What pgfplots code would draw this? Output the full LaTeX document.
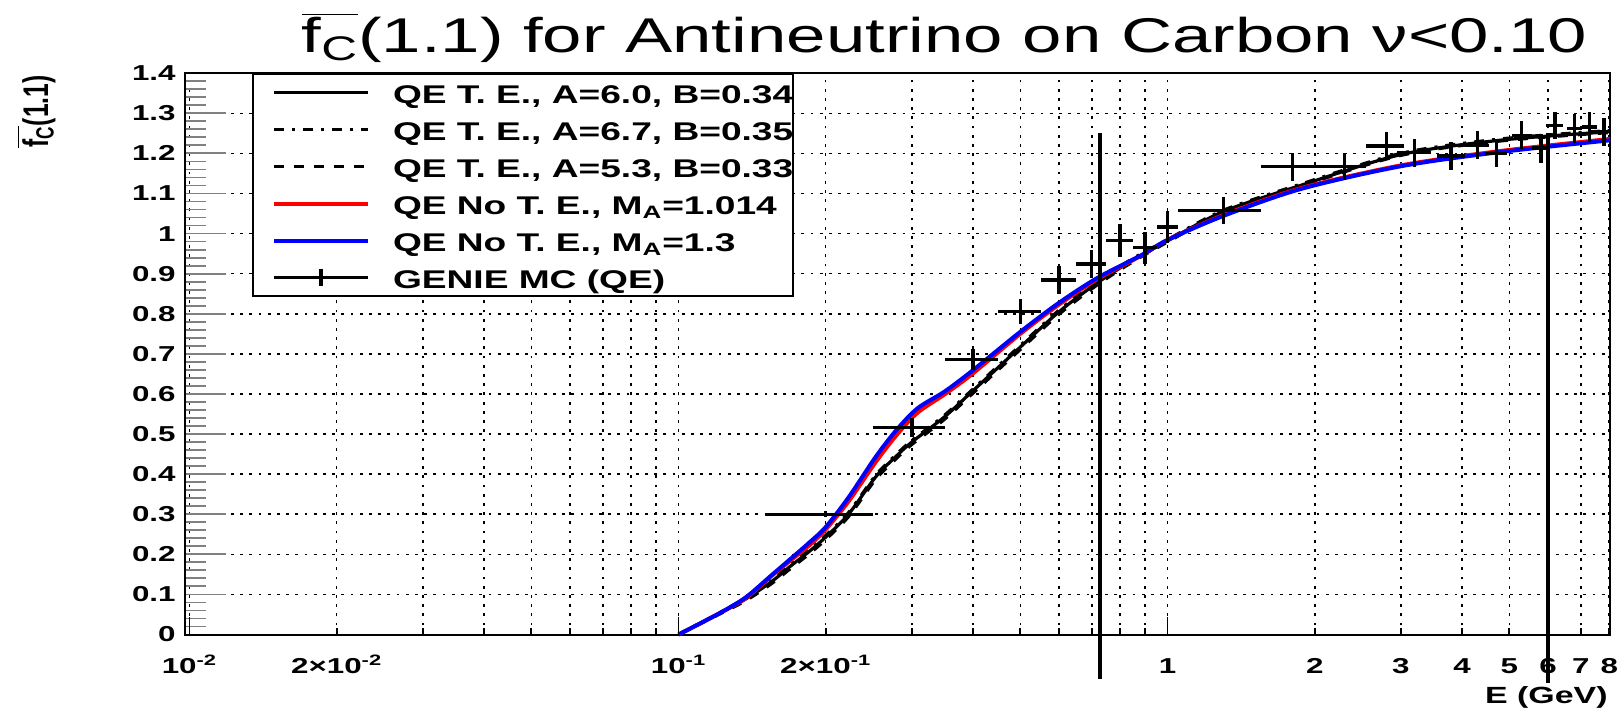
\documentclass[border=0pt]{standalone}
\usepackage{fontspec}
\setmainfont{Liberation Sans}[FakeStretch=1.45]
\newfontfamily\plainfont{Liberation Sans}
\usepackage{graphicx}
\usepackage{pgfplots}
\usepackage{pgfplotstable}
\pgfplotsset{compat=1.18}

\pgfplotstableread{
x y
0.1 0
0.12 0.05
0.137 0.088
0.155 0.132
0.17 0.172
0.185 0.207
0.2 0.243
0.223 0.301
0.253 0.393
0.28 0.447
0.3 0.48
0.35 0.543
0.4 0.608
0.5 0.717
0.6 0.805
0.72 0.878
0.85 0.934
1.0 0.982
1.3 1.055
1.87 1.120
3.0 1.197
4.8 1.233
8.03 1.254
}\teA

\pgfplotstableread{
x y
0.1 0
0.12 0.051
0.137 0.091
0.155 0.135
0.17 0.176
0.185 0.211
0.2 0.247
0.223 0.305
0.253 0.397
0.28 0.451
0.3 0.484
0.35 0.547
0.4 0.612
0.5 0.721
0.6 0.809
0.72 0.882
0.85 0.938
1.0 0.985
1.3 1.058
1.87 1.123
3.0 1.200
4.8 1.236
8.03 1.257
}\teB

\pgfplotstableread{
x y
0.1 0
0.12 0.048
0.137 0.084
0.155 0.127
0.17 0.166
0.185 0.201
0.2 0.237
0.223 0.295
0.253 0.387
0.28 0.441
0.3 0.474
0.35 0.537
0.4 0.602
0.5 0.711
0.6 0.799
0.72 0.873
0.85 0.930
1.0 0.979
1.3 1.053
1.87 1.118
3.0 1.195
4.8 1.231
8.03 1.252
}\teC

\pgfplotstableread{
x y
0.1 0
0.12 0.05
0.137 0.09
0.155 0.146
0.17 0.186
0.185 0.222
0.2 0.262
0.223 0.333
0.253 0.43
0.279 0.497
0.308 0.553
0.35 0.599
0.397 0.648
0.5 0.75
0.6 0.823
0.72 0.887
0.89 0.947
1.0 0.984
1.3 1.046
1.87 1.113
3.0 1.170
4.8 1.206
8.03 1.236
}\noteA

\pgfplotstableread{
x y
0.1 0
0.12 0.05
0.137 0.092
0.155 0.148
0.17 0.19
0.185 0.229
0.2 0.268
0.223 0.343
0.253 0.443
0.279 0.51
0.308 0.564
0.35 0.606
0.397 0.656
0.5 0.755
0.6 0.8275
0.72 0.89
0.89 0.948
1.0 0.984
1.3 1.044
1.87 1.111
3.0 1.168
4.8 1.2035
8.03 1.2326
}\noteB

\pgfplotstableread{
x y ex ey
0.2 0.300 0.05 0.008
0.3 0.516 0.05 0.023
0.4 0.686 0.05 0.027
0.5 0.805 0.05 0.031
0.6 0.884 0.05 0.035
0.7 0.924 0.05 0.035
0.8 0.982 0.05 0.041
0.9 0.965 0.05 0.040
1.0 1.016 0.05 0.040
1.3 1.057 0.25 0.033
1.8 1.167 0.25 0.035
2.3 1.167 0.25 0.034
2.8 1.218 0.25 0.035
3.2 1.202 0.25 0.035
3.8 1.193 0.25 0.035
4.3 1.220 0.25 0.035
4.7 1.200 0.25 0.034
5.3 1.245 0.25 0.035
5.8 1.213 0.25 0.036
6.2 1.270 0.25 0.034
6.8 1.262 0.25 0.037
7.3 1.266 0.25 0.037
7.8 1.254 0.25 0.035
}\genie

\begin{document}
\begin{tikzpicture}
\begin{axis}[
  scale only axis, width=712.5pt, height=280.65pt,
  xmode=log, xmin=0.00979, xmax=8.03, ymin=0, ymax=1.4,
  clip=false,
  axis line style={line width=1pt},
  tick align=inside, xtick pos=bottom, ytick pos=left,
  major tick length=20.5pt, minor tick length=10.5pt,
  xtick style={draw=none},
  ytick style={line width=0.9pt},
  xtick={0.01,0.1,1},
  xticklabels={10\textsuperscript{-2},10\textsuperscript{-1},1},
  minor xtick={0.02,0.03,0.04,0.05,0.06,0.07,0.08,0.09,0.2,0.3,0.4,0.5,0.6,0.7,0.8,0.9,2,3,4,5,6,7,8},
  extra x ticks={0.02,0.2,2,3,4,5,6,7,8},
  extra x tick labels={2\texttimes10\textsuperscript{-2},2\texttimes10\textsuperscript{-1},2,3,4,5,6,7,8},
  extra x tick style={grid=major, xtick style={draw=none}},
  ytick={0,0.1,0.2,0.3,0.4,0.5,0.6,0.7,0.8,0.9,1,1.1,1.2,1.3,1.4},
  yticklabels={0,0.1,0.2,0.3,0.4,0.5,0.6,0.7,0.8,0.9,1,1.1,1.2,1.3,1.4},
  minor y tick num=4,
  xmajorgrids, xminorgrids, ymajorgrids,
  major grid style={black, line width=0.75pt, dash pattern=on 1.4pt off 3.2pt},
  minor grid style={black, line width=0.75pt, dash pattern=on 1.4pt off 3.2pt},
  xticklabel style={font=\fontsize{10.8}{12}\selectfont\bfseries, anchor=base, yshift=-19.25pt, inner sep=0pt},
  yticklabel style={font=\fontsize{10.8}{12}\selectfont\bfseries, anchor=east, xshift=-4.5pt, inner sep=0pt},
  legend style={at={(axis description cs:0.04667,1)}, anchor=north west, draw=black, line width=1pt, fill=white,
    inner xsep=0pt, inner ysep=0pt, row sep=0pt, column sep=11.5pt,
    font=\fontsize{12.8}{14}\selectfont\bfseries,
    nodes={inner sep=0pt, text height=14.65pt, text depth=3.85pt}},
  legend cell align=left,
  legend image code/.code={\path[draw=none,fill=none] (0pt,-2pt) rectangle (0pt,3.6pt); \draw[#1] (10.75pt,0pt) -- (57.75pt,0pt);},
]
\addplot[black, line width=1.6pt, smooth, tension=0.5] table[x=x,y=y] {\teA};
\addlegendentry{QE T. E., A=6.0, B=0.34}
\addplot[black, line width=1.6pt, smooth, tension=0.5, dash pattern=on 5pt off 4pt on 1.5pt off 4pt] table[x=x,y=y] {\teB};
\addlegendentry{QE T. E., A=6.7, B=0.35}
\addplot[black, line width=1.6pt, smooth, tension=0.5, dash pattern=on 5pt off 5pt] table[x=x,y=y] {\teC};
\addlegendentry{QE T. E., A=5.3, B=0.33}
\addplot[red, line width=2pt, smooth, tension=0.5] table[x=x,y=y] {\noteA};
\addlegendentry{QE No T. E., M\textsubscript{A}=1.014}
\addplot[blue, line width=2pt, smooth, tension=0.5] table[x=x,y=y] {\noteB};
\addlegendentry{QE No T. E., M\textsubscript{A}=1.3}
\addplot[draw=none, mark=none,
  legend image code/.code={\path[draw=none,fill=none] (0pt,-2pt) rectangle (0pt,3.6pt);
    \draw[black, line width=1.6pt] (10.75pt,0pt) -- (57.75pt,0pt);
    \draw[black, line width=1.6pt] (34.25pt,-4.2pt) -- (34.25pt,4.2pt);},
  error bars/.cd, x dir=both, x explicit, y dir=both, y explicit, error mark=none,
  error bar style={draw=black, line width=1.7pt}]
  table[x=x,y=y,x error=ex,y error=ey] {\genie};
\addlegendentry{GENIE MC (QE)}
\pgfplotsinvokeforeach{0.01,0.1,1}{\draw[black, line width=0.9pt] (axis cs:#1,0) -- ([yshift=9pt]axis cs:#1,0);}
\pgfplotsinvokeforeach{0.02,0.03,0.04,0.05,0.06,0.07,0.08,0.09,0.2,0.3,0.4,0.5,0.6,0.7,0.8,0.9,2,3,4,5,6,7,8}{\draw[black, line width=0.9pt] (axis cs:#1,0) -- ([yshift=3.5pt]axis cs:#1,0);}
\addplot[forget plot, black, line width=2.2pt] coordinates {(0.728,1.25) (0.728,-0.11)};
\addplot[forget plot, black, line width=2.2pt] coordinates {(6.0,1.25) (6.0,-0.12)};
\end{axis}
\node[anchor=base, font=\fontsize{24.4}{28}\selectfont, inner sep=0pt] at ([xshift=379.75pt,yshift=10.1pt]current axis.north west) {$\overline{\mbox{f\textsubscript{C}}}$(1.1) for Antineutrino on Carbon ν<0.10};
\node[rotate=90, anchor=east, inner sep=0pt] at ([xshift=-74.5pt,yshift=-1pt]current axis.north west) {\scalebox{1}[1.45]{\plainfont\bfseries\fontsize{12.3}{14}\selectfont $\overline{\mbox{f\textsubscript{C}}}$(1.1)}};
\node[anchor=base east, font=\fontsize{11.7}{13}\selectfont\bfseries, inner sep=0pt] at ([xshift=-1pt,yshift=-34.4pt]current axis.south east) {E (GeV)};
\pgfresetboundingbox
\path[use as bounding box] ([xshift=-92.5pt,yshift=-39.25pt]current axis.south west) rectangle ([xshift=6pt,yshift=36.6pt]current axis.north east);
\end{tikzpicture}
\end{document}
